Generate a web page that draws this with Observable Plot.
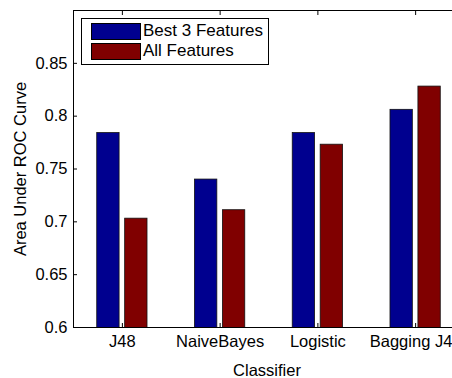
<!DOCTYPE html>
<html>
<head>
<meta charset="utf-8">
<script src="https://cdn.jsdelivr.net/npm/d3@7"></script>
<script src="https://cdn.jsdelivr.net/npm/@observablehq/plot@0.6"></script>
<style>
  html, body { margin: 0; padding: 0; background: #fff; overflow: hidden; }
  #chart { position: relative; width: 452px; height: 378px; overflow: hidden; }
  #chart svg { max-width: none !important; width: 500px; height: 378px; }
  #legend {
    position: absolute; left: 81px; top: 18px; width: 188px; height: 47px;
    box-sizing: border-box; border: 1px solid #000; background: #fff;
    font-family: "Liberation Sans", Arial, Helvetica, sans-serif; font-size: 17px; color: #000;
  }
  #legend .item { position: absolute; left: 9px; height: 17px; }
  #legend .sw { position: absolute; left: 0; top: 0; width: 50px; height: 17px; box-sizing: border-box; border: 1px solid #000; }
  #legend .lab { position: absolute; left: 52px; top: -0.5px; line-height: 17px; white-space: nowrap; }
</style>
</head>
<body>
<div id="chart"></div>
<script>
// Classifiers on the x axis
const categories = ["J48", "NaiveBayes", "Logistic", "Bagging J48"];
// Area under the ROC curve per classifier
const seriesNames = ["Best 3 Features", "All Features"];
const best3Features = [0.784, 0.740, 0.784, 0.806];
const allFeatures = [0.703, 0.711, 0.773, 0.828];
const seriesColors = ["#00008f", "#800000"];
const yTicks = [0.6, 0.65, 0.7, 0.75, 0.8, 0.85];

// Grouped-bar layout: each group takes 4/7 of a slot, each bar 80% of its half
const nSeries = seriesNames.length;
const groupWidth = Math.min(0.8, nSeries / (nSeries + 1.5));
const slot = groupWidth / nSeries;
const barWidth = slot * 0.8;

const seriesValues = [best3Features, allFeatures];
const rows = [];
categories.forEach((c, i) => {
  seriesValues.forEach((vals, s) => {
    const center = (i + 1) + (s - (nSeries - 1) / 2) * slot;
    rows.push({category: c, series: seriesNames[s], value: vals[i],
               x1: center - barWidth / 2, x2: center + barWidth / 2});
  });
});

const font = "'Liberation Sans', Arial, Helvetica, sans-serif";

const chart = Plot.plot({
  width: 500,
  height: 378,
  marginLeft: 73,
  marginRight: 36,
  marginTop: 10,
  marginBottom: 51,
  style: {fontFamily: font, fontSize: "16.5px", color: "#000", background: "#fff", maxWidth: "none"},
  x: {domain: [0.5, categories.length + 0.5]},
  y: {domain: [0.6, 0.9]},
  color: {domain: seriesNames, range: seriesColors},
  marks: [
    Plot.rectY(rows, {
      x1: "x1", x2: "x2", y1: 0, y2: "value",
      fill: "series", stroke: "#111", strokeWidth: 0.8, clip: true
    }),
    Plot.axisY({
      ticks: yTicks, tickFormat: d => String(+d.toFixed(2)),
      tickSize: -4, tickPadding: 10, label: null
    }),
    Plot.axisX({
      anchor: "bottom", ticks: d3.range(1, categories.length + 1),
      tickFormat: i => categories[i - 1],
      tickSize: -4, tickPadding: 12, label: null
    }),
    Plot.axisX({
      anchor: "top", ticks: d3.range(1, categories.length + 1),
      tickSize: -4, fill: "none", label: null
    }),
    Plot.frame({stroke: "#000", strokeWidth: 1}),
    Plot.text(["Classifier"], {
      frameAnchor: "bottom", text: d => d, textAnchor: "middle", lineAnchor: "bottom",
      dy: 48, dx: -2, fontSize: 16.5
    }),
    Plot.text(["Area Under ROC Curve"], {
      frameAnchor: "left", text: d => d, textAnchor: "middle", lineAnchor: "bottom",
      rotate: -90, dx: -48, fontSize: 16.5
    })
  ]
});

const container = document.getElementById("chart");
container.appendChild(chart);

// Legend box in the upper-left corner of the axes
const legend = document.createElement("div");
legend.id = "legend";
seriesNames.forEach((name, s) => {
  const item = document.createElement("div");
  item.className = "item";
  item.style.top = (3.5 + s * 20) + "px";
  const sw = document.createElement("div");
  sw.className = "sw";
  sw.style.background = seriesColors[s];
  const lab = document.createElement("div");
  lab.className = "lab";
  lab.textContent = name;
  item.appendChild(sw);
  item.appendChild(lab);
  legend.appendChild(item);
});
container.appendChild(legend);
</script>
</body>
</html>
